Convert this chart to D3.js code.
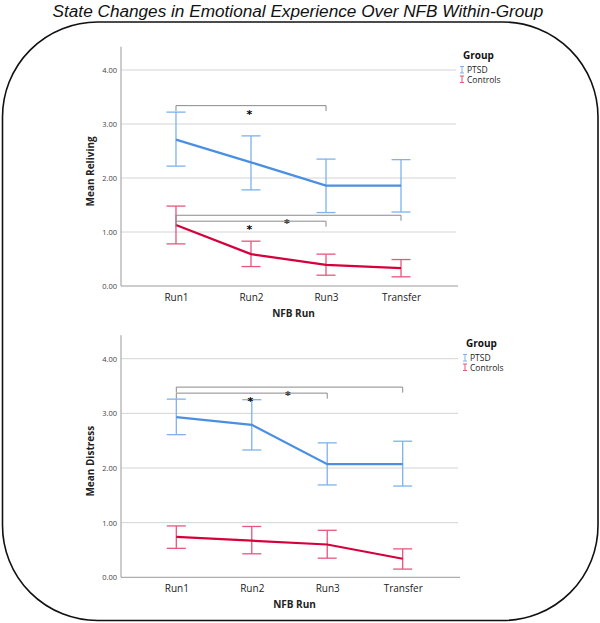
<!DOCTYPE html>
<html><head><meta charset="utf-8">
<script src="https://cdn.jsdelivr.net/npm/d3@7"></script>
<style>body{margin:0;background:#fff}svg{display:block}</style>
</head><body>
<svg id="c" width="600" height="623"></svg>
<script>
const categories = ["Run1","Run2","Run3","Transfer"];
const yTicks = [0,1,2,3,4];
const groups = ["PTSD","Controls"];

const relivingPTSD = [2.71, 2.29, 1.86, 1.86];
const relivingPTSDLo = [2.22, 1.78, 1.36, 1.37];
const relivingPTSDHi = [3.22, 2.78, 2.35, 2.34];
const relivingCtrl = [1.13, 0.59, 0.39, 0.33];
const relivingCtrlLo = [0.78, 0.36, 0.20, 0.17];
const relivingCtrlHi = [1.48, 0.83, 0.59, 0.49];

const distressPTSD = [2.93, 2.79, 2.07, 2.07];
const distressPTSDLo = [2.61, 2.33, 1.69, 1.67];
const distressPTSDHi = [3.26, 3.25, 2.46, 2.49];
const distressCtrl = [0.74, 0.67, 0.60, 0.34];
const distressCtrlLo = [0.53, 0.43, 0.35, 0.15];
const distressCtrlHi = [0.94, 0.93, 0.86, 0.52];

// significance brackets: [from, to, level]
const relivingBrackets = [["Run1","Run3",3.34],["Run1","Transfer",1.31],["Run1","Run3",1.20]];
const distressBrackets = [["Run1","Transfer",3.48],["Run1","Run3",3.37]];

const colors = {PTSD:{line:"#4a8fe2", err:"#7db2ef"}, Controls:{line:"#d5003b", err:"#e8557d"}};
const FONT = "'Open Sans', 'DejaVu Sans', sans-serif";

const svg = d3.select("#c");

svg.append("text").attr("x",298).attr("y",17).attr("text-anchor","middle")
  .attr("font-family","'Liberation Sans', Arial, sans-serif").attr("font-style","italic")
  .attr("font-size",17.2).attr("fill","#111")
  .text("State Changes in Emotional Experience Over NFB Within-Group");

svg.append("rect").attr("x",2.5).attr("y",22).attr("width",595.5).attr("height",598.5)
  .attr("rx",95).attr("ry",95).attr("fill","none").attr("stroke","#111").attr("stroke-width",1.6);

function panel(cfg){
  const x = d3.scalePoint().domain(categories).range([cfg.x0, cfg.x1]).padding(0.733);
  const y = d3.scaleLinear().domain([0, 4]).range([cfg.y0, cfg.y4]);
  const yTop = y(4.43);
  const g = svg.append("g");

  // gridlines
  g.selectAll(".grid").data(yTicks.slice(1)).enter().append("line")
    .attr("x1",cfg.x0).attr("x2",cfg.x1).attr("y1",d=>y(d)).attr("y2",d=>y(d))
    .attr("stroke","#d4d4d4").attr("stroke-width",1);

  // y axis
  const ya = d3.axisLeft(y).tickValues(yTicks).tickSize(0).tickPadding(4).tickFormat(d3.format(".2f"));
  const yg = g.append("g").attr("transform",`translate(${cfg.x0},0)`).call(ya);
  yg.select(".domain").remove();
  yg.selectAll("text").attr("font-family",FONT).attr("font-size",7.5).attr("fill","#444");
  g.append("line").attr("x1",cfg.x0).attr("x2",cfg.x0).attr("y1",yTop).attr("y2",y(0))
    .attr("stroke","#999").attr("stroke-width",1);

  // x axis
  const xa = d3.axisBottom(x).tickSize(0).tickPadding(8);
  const xg = g.append("g").attr("transform",`translate(0,${y(0)})`).call(xa);
  xg.select(".domain").remove();
  xg.selectAll("text").attr("font-family",FONT).attr("font-size",10).attr("fill","#222");
  g.append("line").attr("x1",cfg.x0).attr("x2",cfg.x1+2).attr("y1",y(0)).attr("y2",y(0))
    .attr("stroke","#999").attr("stroke-width",1);

  g.append("text").attr("x",(cfg.x0+cfg.x1)/2+5).attr("y",y(0)+31).attr("text-anchor","middle")
    .attr("font-family",FONT).attr("font-weight","bold").attr("font-size",10).attr("fill","#222").text("NFB Run");
  g.append("text").attr("transform",`translate(${cfg.x0-27},${(yTop+y(0))/2+5}) rotate(-90)`)
    .attr("text-anchor","middle").attr("font-family",FONT).attr("font-weight","bold")
    .attr("font-size",10).attr("fill","#222").text(cfg.ytitle);

  // series
  cfg.series.forEach(s=>{
    const c = colors[s.group];
    const data = categories.map((k,i)=>({k, m:s.mean[i], lo:s.lo[i], hi:s.hi[i]}));
    const eb = g.append("g").attr("stroke",c.err).attr("stroke-width",1.3).attr("fill","none");
    data.forEach(d=>{
      eb.append("line").attr("x1",x(d.k)).attr("x2",x(d.k)).attr("y1",y(d.lo)).attr("y2",y(d.hi));
      eb.append("line").attr("x1",x(d.k)-9.5).attr("x2",x(d.k)+9.5).attr("y1",y(d.lo)).attr("y2",y(d.lo));
      eb.append("line").attr("x1",x(d.k)-9.5).attr("x2",x(d.k)+9.5).attr("y1",y(d.hi)).attr("y2",y(d.hi));
    });
    g.append("path").datum(data)
      .attr("d",d3.line().x(d=>x(d.k)).y(d=>y(d.m)))
      .attr("fill","none").attr("stroke",c.line).attr("stroke-width",2.2);
  });

  // brackets
  cfg.brackets.forEach(b=>{
    const xa1 = x(b[0]), xa2 = x(b[1]), yy = y(b[2]);
    g.append("path").attr("d",`M${xa1},${yy+5.5}V${yy}H${xa2}V${yy+5.5}`)
      .attr("fill","none").attr("stroke","#8a8a8a").attr("stroke-width",1);
    g.append("text").attr("x",(xa1+xa2)/2-1.5).attr("y",yy+12).attr("text-anchor","middle")
      .attr("font-family","'DejaVu Sans', sans-serif").attr("font-weight","bold").attr("font-size",11).attr("fill","#000").text("*");
  });

  // legend
  const lg = g.append("g").attr("transform",`translate(${cfg.lx},${cfg.ly})`);
  lg.append("text").attr("x",2).attr("y",0).attr("font-family",FONT).attr("font-weight","bold")
    .attr("font-size",10).attr("fill","#111").text("Group");
  groups.forEach((gr,i)=>{
    const yy = 11 + i*9.5;
    const c = colors[gr].err;
    lg.append("path").attr("d",`M-1,${yy-3.5}H3M1,${yy-3.5}V${yy+3}M-1,${yy+3}H3`)
      .attr("stroke",c).attr("stroke-width",1).attr("fill","none");
    lg.append("text").attr("x",6).attr("y",yy+3).attr("font-family",FONT)
      .attr("font-size",8.5).attr("fill","#222").text(gr);
  });
}

panel({x0:121, x1:456, y0:286, y4:70, ytitle:"Mean Reliving", lx:461, ly:59,
  series:[{group:"PTSD", mean:relivingPTSD, lo:relivingPTSDLo, hi:relivingPTSDHi},
          {group:"Controls", mean:relivingCtrl, lo:relivingCtrlLo, hi:relivingCtrlHi}],
  brackets: relivingBrackets});
panel({x0:121, x1:458, y0:577.3, y4:358.7, ytitle:"Mean Distress", lx:464, ly:347,
  series:[{group:"PTSD", mean:distressPTSD, lo:distressPTSDLo, hi:distressPTSDHi},
          {group:"Controls", mean:distressCtrl, lo:distressCtrlLo, hi:distressCtrlHi}],
  brackets: distressBrackets});
</script>
</body></html>
